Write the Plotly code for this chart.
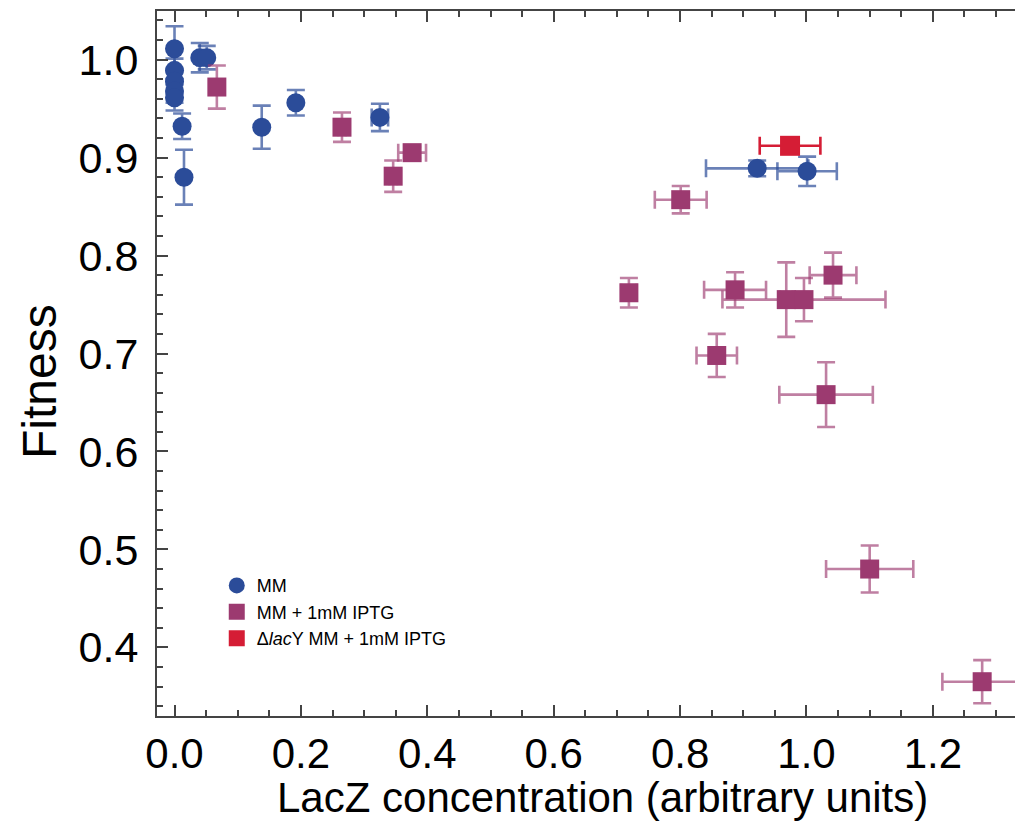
import plotly.graph_objects as go

# ---- data ----
mm_x = [0.000, 0.000, 0.000, 0.000, 0.000, 0.012, 0.015, 0.040, 0.051, 0.138, 0.192, 0.325, 0.922, 1.001]
mm_y = [1.011, 0.989, 0.978, 0.968, 0.961, 0.932, 0.880, 1.002, 1.002, 0.931, 0.956, 0.941, 0.889, 0.886]
mm_xerr = [0.0, 0.0, 0.0, 0.0, 0.0, 0.0, 0.0, 0.004, 0.004, 0.0, 0.0, 0.013, 0.081, 0.047]
mm_yerr = [0.023, 0.012, 0.012, 0.012, 0.013, 0.013, 0.028, 0.015, 0.012, 0.022, 0.013, 0.014, 0.008, 0.015]

iptg_x = [0.067, 0.265, 0.346, 0.376, 0.801, 0.719, 0.887, 0.968, 0.996, 1.042, 0.858, 1.031, 1.100, 1.278]
iptg_y = [0.972, 0.931, 0.881, 0.905, 0.857, 0.762, 0.765, 0.755, 0.755, 0.780, 0.698, 0.658, 0.480, 0.365]
iptg_xerr = [0.005, 0.006, 0.006, 0.022, 0.041, 0.012, 0.049, 0.010, 0.129, 0.037, 0.032, 0.074, 0.069, 0.063]
iptg_yerr = [0.022, 0.015, 0.016, 0.006, 0.014, 0.015, 0.018, 0.038, 0.022, 0.023, 0.022, 0.033, 0.024, 0.022]

lacy_x = [0.974]
lacy_y = [0.912]
lacy_xerr = [0.048]
lacy_yerr = [0.008]

names = ["MM", "MM + 1mM IPTG", "\u0394<i>lac</i>Y MM + 1mM IPTG"]
x_title = "LacZ concentration (arbitrary units)"
y_title = "Fitness"

BLUE = "#2b4c99"
PURPLE = "#9c3a70"
RED = "#d51d35"

def err(vals, color):
    return dict(type="data", array=vals, symmetric=True, visible=True,
                color=color, thickness=2.6, width=9)

fig = go.Figure()
fig.add_trace(go.Scatter(
    x=mm_x, y=mm_y, mode="markers", name=names[0],
    marker=dict(symbol="circle", size=19, color=BLUE),
    error_x=err(mm_xerr, "rgba(43,76,153,0.7)"),
    error_y=err(mm_yerr, "rgba(43,76,153,0.7)"),
))
fig.add_trace(go.Scatter(
    x=iptg_x, y=iptg_y, mode="markers", name=names[1],
    marker=dict(symbol="square", size=19, color=PURPLE),
    error_x=err(iptg_xerr, "rgba(156,58,112,0.65)"),
    error_y=err(iptg_yerr, "rgba(156,58,112,0.65)"),
))
fig.add_trace(go.Scatter(
    x=lacy_x, y=lacy_y, mode="markers", name=names[2],
    marker=dict(symbol="square", size=20, color=RED),
    error_x=err(lacy_xerr, RED),
    error_y=err(lacy_yerr, RED),
))

AXC = "#444444"
regular = "Liberation Sans, Arial, sans-serif"

# the page body keeps its default 8px margin, so the figure is 8px smaller
fig.update_layout(
    width=1015, height=816,
    margin=dict(l=149, r=0, t=3, b=108),
    paper_bgcolor="white", plot_bgcolor="white",
    font=dict(family=regular, color="black"),
    showlegend=True,
    legend=dict(x=0.069, y=0.211, xanchor="left", yanchor="top",
                font=dict(size=18, family=regular, color="black"),
                bgcolor="rgba(0,0,0,0)", itemsizing="trace"),
    xaxis=dict(
        range=[-0.0277, 1.3426], dtick=0.2, tick0=0, tickformat=".1f",
        showgrid=False, zeroline=False,
        showline=True, linecolor=AXC, linewidth=2, mirror="allticks",
        ticks="inside", ticklen=11, tickwidth=2, tickcolor=AXC,
        minor=dict(dtick=0.05, ticks="inside", ticklen=6, tickwidth=1.5, tickcolor=AXC),
        tickfont=dict(size=42, family=regular, color="black"),
    ),
    yaxis=dict(
        range=[0.330, 1.0496], dtick=0.1, tick0=0, tickformat=".1f",
        showgrid=False, zeroline=False,
        showline=True, linecolor=AXC, linewidth=2, mirror=False,
        ticks="inside", ticklen=11, tickwidth=2, tickcolor=AXC,
        minor=dict(dtick=0.02, ticks="inside", ticklen=6, tickwidth=1.5, tickcolor=AXC),
        tickfont=dict(size=43, family=regular, color="black"),
        ticklabelstandoff=8,
    ),
    annotations=[
        dict(text=x_title, xref="paper", yref="paper", x=0.515, y=-0.116,
             xanchor="center", yanchor="middle", showarrow=False,
             font=dict(size=42, family=regular, color="black")),
        dict(text=y_title, xref="paper", yref="paper", x=-0.135, y=0.4738,
             xanchor="center", yanchor="middle", showarrow=False, textangle=-90,
             font=dict(size=48, family=regular, color="black")),
    ],
)

fig.write_html("out.html")
